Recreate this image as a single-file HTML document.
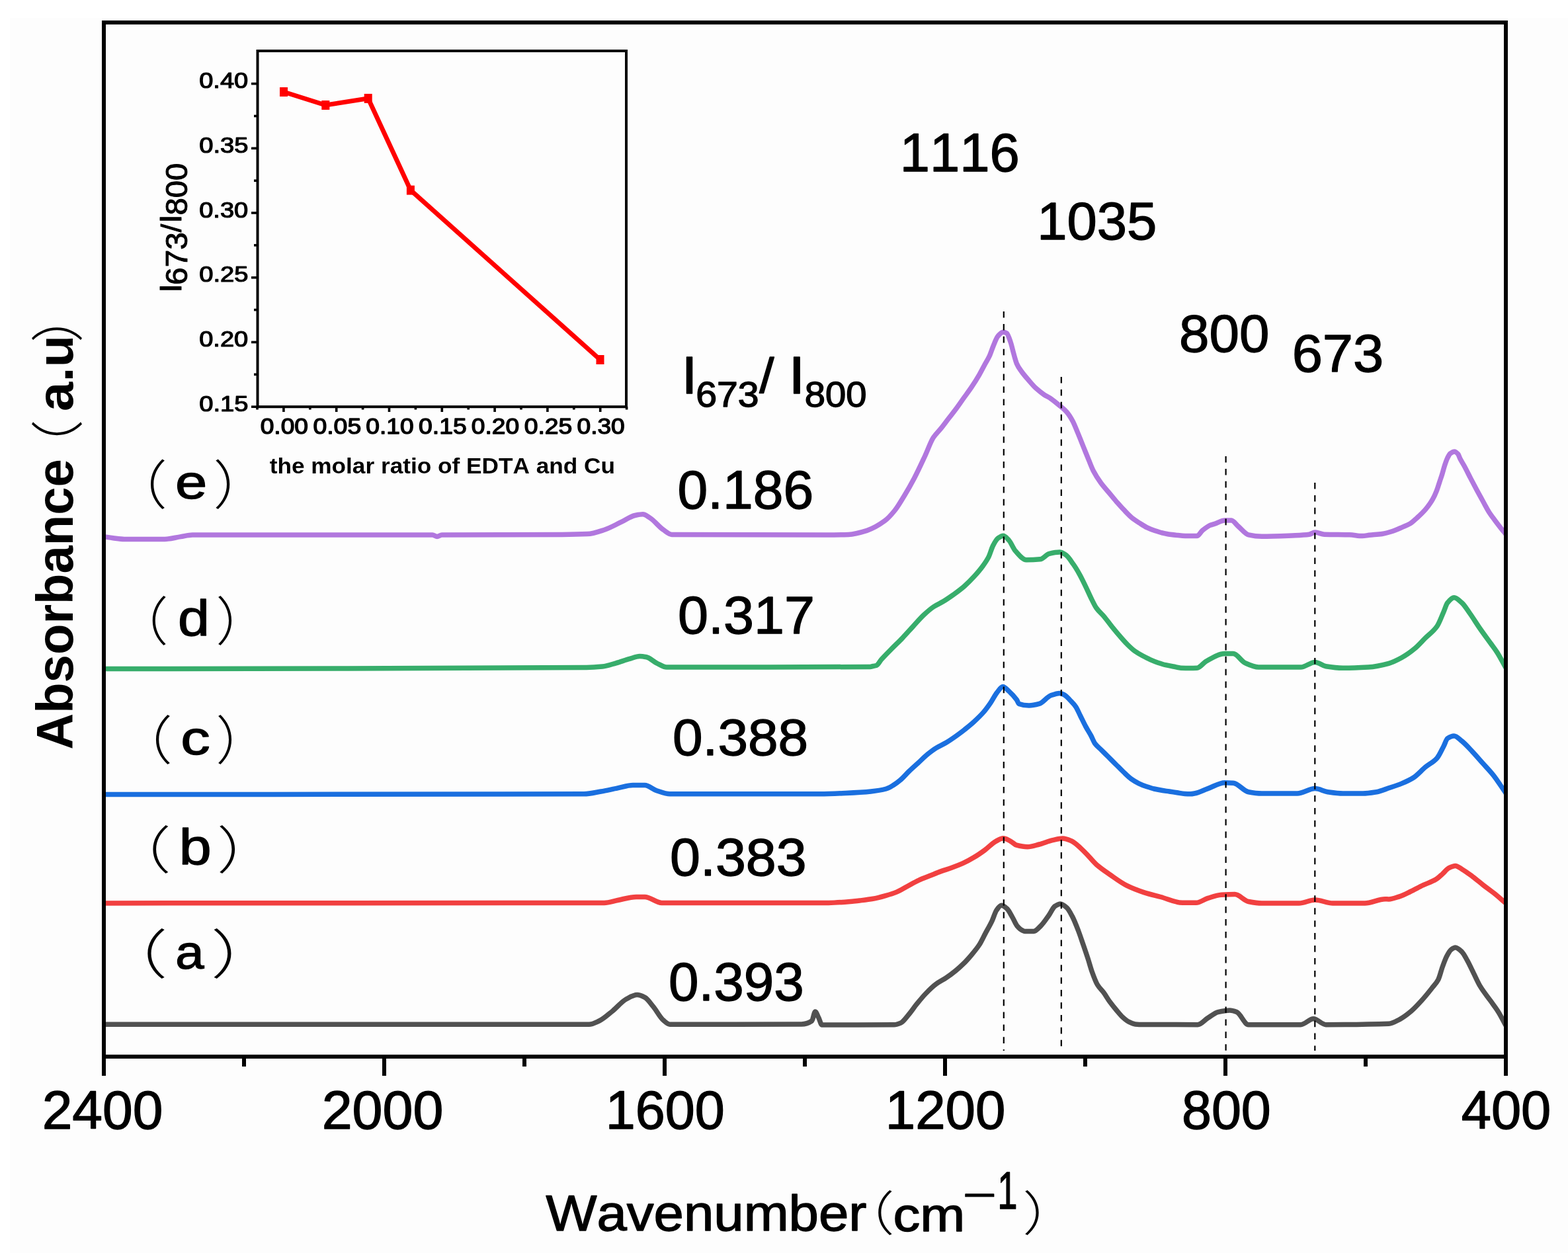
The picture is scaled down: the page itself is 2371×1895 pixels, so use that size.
<!DOCTYPE html>
<html><head><meta charset="utf-8"><title>FTIR spectra</title>
<style>html,body{margin:0;padding:0;background:#fff;overflow:hidden}svg{display:block}text{font-kerning:none}</style>
</head><body>
<svg xmlns="http://www.w3.org/2000/svg" width="2371" height="1895" viewBox="0 0 2371 1895">
<rect x="0" y="0" width="2371" height="1895" fill="#ffffff"/>
<rect x="15" y="27" width="2356" height="1868" fill="#fdfdfd"/>
<defs><clipPath id="pc"><rect x="157" y="34" width="2120" height="1564"/></clipPath></defs>
<g clip-path="url(#pc)" fill="none" stroke-width="7.5" stroke-linejoin="round">
<path d="M157.0 1549.2C401.6 1549.2 646.2 1549.2 890.8 1549.2C895.9 1549.2 900.9 1546.3 906.0 1544.0C912.8 1540.9 919.7 1534.3 926.5 1528.8C933.3 1523.3 940.2 1514.6 947.0 1511.0C952.5 1508.1 958.0 1504.6 963.5 1504.6C967.3 1504.6 971.2 1506.5 975.0 1508.4C979.3 1510.5 983.5 1517.3 987.8 1522.4C992.9 1528.5 997.9 1538.7 1003.0 1542.9C1006.3 1545.7 1009.7 1549.2 1013.0 1549.2C1079.3 1549.2 1145.7 1549.2 1212.0 1549.0C1217.2 1549.0 1222.4 1547.4 1227.6 1544.0C1229.3 1542.9 1231.0 1530.0 1232.7 1530.0C1234.4 1530.0 1236.1 1535.7 1237.8 1539.0C1239.5 1542.3 1241.2 1550.0 1242.9 1550.0C1279.3 1550.0 1315.6 1550.0 1352.0 1549.8C1355.3 1549.8 1358.6 1548.5 1361.9 1547.1C1365.9 1545.4 1369.8 1539.3 1373.8 1534.7C1377.8 1530.1 1381.7 1524.1 1385.7 1519.2C1390.5 1513.3 1395.2 1507.4 1400.0 1502.5C1405.1 1497.2 1410.3 1492.1 1415.4 1488.3C1420.6 1484.5 1425.7 1482.2 1430.9 1478.7C1435.7 1475.5 1440.4 1471.9 1445.2 1468.0C1449.2 1464.8 1453.1 1461.2 1457.1 1457.3C1461.1 1453.4 1465.0 1448.9 1469.0 1444.2C1473.0 1439.5 1476.9 1434.9 1480.9 1428.8C1484.1 1423.9 1487.2 1416.8 1490.4 1410.9C1493.6 1405.0 1496.7 1399.7 1499.9 1393.1C1502.3 1388.1 1504.6 1379.7 1507.0 1376.4C1509.4 1373.1 1511.8 1369.3 1514.2 1369.3C1517.0 1369.3 1519.7 1371.7 1522.5 1374.0C1525.3 1376.3 1528.0 1382.4 1530.8 1387.1C1533.2 1391.1 1535.5 1397.4 1537.9 1400.2C1540.7 1403.5 1543.5 1406.1 1546.3 1407.3C1547.5 1407.8 1548.8 1408.5 1550.0 1408.5C1554.4 1408.5 1558.7 1408.5 1563.1 1408.5C1566.7 1408.5 1570.2 1403.7 1573.8 1400.2C1577.8 1396.4 1581.7 1390.2 1585.7 1384.7C1588.9 1380.3 1592.0 1372.6 1595.2 1370.5C1598.0 1368.7 1600.7 1366.9 1603.5 1366.9C1606.7 1366.9 1609.9 1369.9 1613.1 1372.8C1615.9 1375.3 1618.6 1380.7 1621.4 1385.9C1624.6 1391.9 1627.7 1400.2 1630.9 1408.5C1633.3 1414.7 1635.6 1421.9 1638.0 1428.8C1640.4 1435.8 1642.8 1442.8 1645.2 1450.2C1647.2 1456.3 1649.1 1463.7 1651.1 1469.2C1653.9 1477.0 1656.7 1484.8 1659.5 1489.4C1662.7 1494.7 1665.8 1497.0 1669.0 1501.3C1672.2 1505.6 1675.3 1511.3 1678.5 1515.6C1681.7 1519.9 1684.8 1523.7 1688.0 1527.5C1691.2 1531.3 1694.3 1535.3 1697.5 1538.2C1700.7 1541.1 1703.8 1543.8 1707.0 1545.4C1710.2 1547.0 1713.4 1548.6 1716.6 1548.9C1720.6 1549.3 1724.5 1549.5 1728.5 1549.5C1756.0 1549.7 1783.5 1549.7 1811.0 1549.7C1816.2 1549.7 1821.3 1542.7 1826.5 1539.5C1831.6 1536.4 1836.7 1531.8 1841.8 1530.6C1847.8 1529.2 1853.7 1528.0 1859.7 1528.0C1863.1 1528.0 1866.6 1529.3 1870.0 1530.6C1875.9 1532.9 1881.9 1549.7 1887.8 1549.7C1914.1 1549.7 1940.5 1549.7 1966.8 1549.7C1973.2 1549.7 1979.6 1540.8 1986.0 1540.8C1992.3 1540.8 1998.7 1549.7 2005.0 1549.7C2036.7 1549.7 2068.3 1549.5 2100.0 1548.3C2105.4 1548.1 2110.8 1544.6 2116.2 1541.8C2121.6 1539.0 2127.1 1534.9 2132.5 1530.4C2137.9 1526.0 2143.3 1520.1 2148.7 1514.2C2154.1 1508.3 2159.6 1501.6 2165.0 1494.7C2168.2 1490.6 2171.5 1487.8 2174.7 1481.7C2176.9 1477.6 2179.0 1468.1 2181.2 1462.2C2183.4 1456.3 2185.5 1450.1 2187.7 1446.0C2189.9 1441.9 2192.0 1437.8 2194.2 1436.2C2196.4 1434.6 2198.5 1433.0 2200.7 1433.0C2204.0 1433.0 2207.2 1436.4 2210.5 1439.5C2213.2 1442.1 2215.9 1447.6 2218.6 1452.4C2221.8 1458.1 2225.1 1465.4 2228.3 1471.9C2231.6 1478.4 2234.8 1485.9 2238.1 1491.4C2243.5 1500.4 2248.9 1506.6 2254.3 1514.2C2258.1 1519.6 2261.9 1524.3 2265.7 1530.4C2269.5 1536.4 2273.2 1544.1 2277.0 1551.0" stroke="#515151"/>
<path d="M157.0 1365.9C409.3 1365.7 661.5 1365.9 913.8 1365.4C920.5 1365.4 927.3 1362.8 934.0 1361.5C943.4 1359.7 952.8 1356.4 962.2 1356.4C966.5 1356.4 970.7 1356.4 975.0 1356.4C983.5 1356.4 992.0 1365.4 1000.5 1365.4C1084.7 1365.4 1168.8 1365.4 1253.0 1365.4C1265.6 1365.4 1278.2 1364.1 1290.8 1363.0C1293.9 1362.7 1296.9 1362.4 1300.0 1362.0C1306.7 1361.2 1313.3 1360.5 1320.0 1359.3C1326.3 1358.2 1332.7 1356.4 1339.0 1354.6C1344.6 1353.0 1350.1 1351.4 1355.7 1349.1C1361.3 1346.8 1366.8 1343.2 1372.4 1340.2C1378.0 1337.2 1383.5 1333.8 1389.1 1331.3C1394.7 1328.8 1400.2 1326.8 1405.8 1324.6C1411.4 1322.4 1416.9 1319.9 1422.5 1317.9C1428.1 1315.9 1433.6 1314.3 1439.2 1312.3C1444.8 1310.3 1450.3 1308.2 1455.9 1305.7C1461.4 1303.2 1467.0 1300.1 1472.5 1296.8C1478.1 1293.5 1483.6 1289.7 1489.2 1285.6C1494.8 1281.5 1500.3 1275.2 1505.9 1272.3C1509.6 1270.3 1513.4 1267.8 1517.1 1267.8C1520.8 1267.8 1524.5 1270.4 1528.2 1272.3C1531.2 1273.8 1534.1 1277.4 1537.1 1278.2C1542.6 1279.7 1548.1 1280.8 1553.6 1280.8C1559.5 1280.8 1565.5 1278.5 1571.4 1277.0C1578.2 1275.3 1585.0 1272.1 1591.8 1270.6C1596.9 1269.5 1601.9 1268.0 1607.0 1268.0C1611.3 1268.0 1615.7 1270.0 1620.0 1271.8C1626.7 1274.6 1633.3 1282.2 1640.0 1288.4C1646.0 1294.0 1652.0 1302.3 1658.0 1307.6C1664.9 1313.6 1671.7 1318.1 1678.6 1322.9C1687.1 1328.8 1695.5 1335.2 1704.0 1339.4C1712.5 1343.6 1721.1 1346.8 1729.6 1349.6C1738.1 1352.3 1746.5 1354.2 1755.0 1356.5C1766.0 1359.5 1777.0 1365.3 1788.0 1365.3C1794.9 1365.3 1801.8 1365.3 1808.7 1365.3C1814.6 1365.3 1820.6 1360.2 1826.5 1358.4C1833.3 1356.3 1840.2 1353.7 1847.0 1353.3C1853.8 1352.9 1860.5 1352.6 1867.3 1352.6C1874.1 1352.6 1881.0 1362.1 1887.8 1363.5C1894.5 1364.8 1901.3 1366.0 1908.0 1366.0C1926.8 1366.0 1945.5 1366.0 1964.3 1366.0C1972.4 1366.0 1980.4 1361.0 1988.5 1361.0C1997.4 1361.0 2006.4 1366.0 2015.3 1366.0C2031.5 1366.0 2047.6 1366.0 2063.8 1366.0C2074.0 1366.0 2084.2 1359.7 2094.4 1359.7C2096.3 1359.7 2098.1 1359.9 2100.0 1359.9C2105.4 1359.9 2110.8 1357.5 2116.2 1355.8C2121.6 1354.0 2127.1 1351.1 2132.5 1348.5C2139.0 1345.4 2145.5 1341.8 2152.0 1338.7C2158.5 1335.6 2165.0 1333.8 2171.5 1329.8C2174.7 1327.8 2178.0 1324.5 2181.2 1321.7C2184.5 1318.8 2187.7 1314.3 2191.0 1312.7C2194.2 1311.1 2197.5 1309.5 2200.7 1309.5C2204.0 1309.5 2207.2 1312.5 2210.5 1314.4C2215.9 1317.5 2221.3 1321.7 2226.7 1325.7C2232.1 1329.7 2237.6 1334.5 2243.0 1338.7C2248.4 1342.9 2253.8 1346.6 2259.2 1350.9C2265.1 1355.6 2271.1 1361.0 2277.0 1366.0" stroke="#F14040"/>
<path d="M157.0 1201.6C399.0 1201.3 641.0 1201.6 883.0 1200.8C891.6 1200.8 900.1 1198.5 908.7 1197.0C917.1 1195.6 925.6 1193.5 934.0 1191.9C941.7 1190.4 949.3 1187.6 957.0 1187.6C963.0 1187.6 969.0 1187.6 975.0 1187.6C981.0 1187.6 986.9 1193.7 992.9 1195.7C999.6 1197.9 1006.3 1200.8 1013.0 1200.8C1088.7 1200.8 1164.3 1200.8 1240.0 1200.8C1252.9 1200.8 1265.7 1200.1 1278.6 1199.5C1291.3 1198.9 1304.1 1198.3 1316.8 1197.0C1324.5 1196.2 1332.3 1195.1 1340.0 1193.0C1343.9 1191.9 1347.7 1189.4 1351.6 1187.1C1354.7 1185.2 1357.8 1182.8 1360.9 1180.2C1365.5 1176.3 1370.2 1170.7 1374.8 1166.3C1379.5 1161.8 1384.1 1157.8 1388.8 1153.5C1393.4 1149.2 1398.1 1144.5 1402.7 1140.7C1406.9 1137.3 1411.2 1134.0 1415.4 1131.4C1420.4 1128.3 1425.5 1126.3 1430.5 1123.3C1435.2 1120.5 1439.8 1117.3 1444.5 1114.0C1449.1 1110.7 1453.8 1107.3 1458.4 1103.6C1463.0 1099.9 1467.7 1096.2 1472.3 1092.0C1477.3 1087.4 1482.4 1082.7 1487.4 1076.9C1490.9 1072.9 1494.4 1068.0 1497.9 1062.9C1501.0 1058.4 1504.1 1051.8 1507.2 1047.9C1510.3 1044.1 1513.3 1038.6 1516.4 1038.6C1519.5 1038.6 1522.6 1042.8 1525.7 1045.5C1529.6 1048.9 1533.4 1052.9 1537.3 1058.3C1538.5 1059.9 1539.6 1064.0 1540.8 1064.4C1545.9 1066.3 1550.9 1067.0 1556.0 1067.0C1561.1 1067.0 1566.3 1065.8 1571.4 1064.4C1577.3 1062.8 1583.1 1053.8 1589.0 1051.7C1593.4 1050.1 1597.9 1048.4 1602.3 1048.4C1604.6 1048.4 1607.0 1049.7 1609.3 1050.8C1612.4 1052.3 1615.5 1056.3 1618.6 1059.5C1621.3 1062.3 1624.0 1064.8 1626.7 1068.8C1629.0 1072.2 1631.4 1078.1 1633.7 1082.7C1636.4 1088.1 1639.1 1093.9 1641.8 1098.9C1644.5 1103.9 1647.2 1107.9 1649.9 1112.9C1651.8 1116.5 1653.8 1121.9 1655.7 1124.5C1658.8 1128.7 1661.9 1130.7 1665.0 1133.8C1668.5 1137.3 1671.9 1140.7 1675.4 1144.2C1679.3 1148.1 1683.2 1151.9 1687.1 1155.8C1691.0 1159.7 1694.8 1163.7 1698.7 1167.4C1702.6 1171.1 1706.4 1175.1 1710.3 1177.9C1714.2 1180.7 1718.0 1182.9 1721.9 1184.8C1725.8 1186.7 1729.6 1188.2 1733.5 1189.5C1737.4 1190.8 1741.2 1192.1 1745.1 1193.0C1749.0 1193.9 1752.8 1194.6 1756.7 1195.3C1760.6 1196.0 1764.4 1196.4 1768.3 1197.0C1772.2 1197.6 1776.0 1198.2 1779.9 1198.8C1783.8 1199.4 1787.6 1200.3 1791.5 1200.5C1794.3 1200.7 1797.2 1200.8 1800.0 1200.8C1802.0 1200.8 1804.0 1200.4 1806.0 1200.0C1812.8 1198.8 1819.7 1195.0 1826.5 1192.6C1835.0 1189.6 1843.5 1183.7 1852.0 1183.7C1856.3 1183.7 1860.5 1183.9 1864.8 1184.2C1872.5 1184.7 1880.1 1196.3 1887.8 1197.7C1894.5 1199.0 1901.3 1200.0 1908.0 1200.0C1925.9 1200.0 1943.8 1200.0 1961.7 1200.0C1970.6 1200.0 1979.6 1192.6 1988.5 1192.6C1994.9 1192.6 2001.2 1196.8 2007.6 1197.7C2015.3 1198.8 2022.9 1200.0 2030.6 1200.0C2040.7 1200.0 2050.9 1200.0 2061.0 1200.0C2067.9 1200.0 2074.7 1198.8 2081.6 1197.7C2087.7 1196.7 2093.9 1193.9 2100.0 1191.8C2106.6 1189.6 2113.1 1187.6 2119.7 1184.9C2125.6 1182.4 2131.6 1179.8 2137.5 1176.0C2143.4 1172.2 2149.4 1165.1 2155.3 1160.2C2161.2 1155.3 2167.1 1153.1 2173.0 1146.4C2176.3 1142.7 2179.6 1135.0 2182.9 1128.7C2184.9 1125.0 2186.8 1118.2 2188.8 1116.8C2192.1 1114.5 2195.4 1112.9 2198.7 1112.9C2202.6 1112.9 2206.6 1117.7 2210.5 1120.8C2215.8 1125.0 2221.0 1131.0 2226.3 1136.6C2231.6 1142.2 2236.8 1148.4 2242.1 1154.3C2247.4 1160.2 2252.6 1165.5 2257.9 1172.1C2264.3 1180.1 2270.6 1190.4 2277.0 1199.5" stroke="#1A6FDF"/>
<path d="M157.0 1011.6C400.3 1010.9 643.7 1011.4 887.0 1009.5C895.0 1009.4 903.0 1008.8 911.0 1008.0C917.9 1007.3 924.7 1004.7 931.6 1002.8C938.4 1000.9 945.2 998.3 952.0 996.4C957.1 995.0 962.2 992.6 967.3 992.6C970.7 992.6 974.2 993.2 977.6 993.8C982.7 994.8 987.8 1000.3 992.9 1002.8C997.9 1005.2 1003.0 1009.0 1008.0 1009.0C1110.7 1009.0 1213.3 1009.0 1316.0 1008.5C1317.3 1008.5 1318.7 1007.8 1320.0 1007.5C1321.7 1007.1 1323.4 1007.0 1325.1 1006.5C1327.7 1005.7 1330.2 1000.2 1332.8 997.3C1337.9 991.6 1343.0 986.6 1348.1 981.4C1353.6 975.8 1359.2 970.6 1364.7 964.8C1369.8 959.5 1374.9 953.6 1380.0 948.1C1385.5 942.1 1391.1 935.5 1396.6 930.3C1401.7 925.5 1406.9 920.9 1412.0 917.5C1416.7 914.4 1421.3 912.6 1426.0 909.8C1431.1 906.7 1436.2 903.2 1441.3 899.6C1446.8 895.6 1452.4 891.6 1457.9 886.8C1463.0 882.3 1468.2 877.1 1473.3 871.5C1477.5 866.9 1481.8 862.0 1486.0 856.2C1489.0 852.1 1492.0 848.0 1495.0 842.1C1497.1 837.9 1499.3 829.6 1501.4 825.5C1503.9 820.6 1506.5 815.8 1509.0 814.0C1511.7 812.1 1514.3 810.2 1517.0 810.2C1519.8 810.2 1522.7 814.0 1525.5 817.0C1528.9 820.6 1532.3 829.8 1535.7 833.6C1541.1 839.6 1546.6 846.8 1552.0 846.8C1558.9 846.8 1565.8 846.5 1572.7 845.8C1577.4 845.4 1582.0 838.5 1586.7 837.4C1591.9 836.2 1597.1 835.1 1602.3 835.1C1605.4 835.1 1608.5 837.2 1611.6 839.2C1615.5 841.7 1619.3 848.2 1623.2 853.7C1626.3 858.1 1629.4 863.3 1632.5 868.8C1635.6 874.3 1638.7 880.9 1641.8 887.3C1644.9 893.7 1648.0 901.0 1651.1 907.1C1653.4 911.6 1655.7 916.6 1658.0 919.8C1661.9 925.3 1665.7 928.0 1669.6 932.6C1673.5 937.2 1677.4 942.9 1681.3 947.7C1685.2 952.5 1689.0 957.2 1692.9 961.6C1696.8 966.0 1700.6 970.6 1704.5 974.4C1708.4 978.2 1712.2 982.0 1716.1 984.8C1720.0 987.6 1723.8 989.7 1727.7 991.8C1731.6 993.9 1735.4 995.9 1739.3 997.6C1743.2 999.3 1747.0 1000.9 1750.9 1002.2C1754.8 1003.5 1758.6 1004.8 1762.5 1005.7C1766.4 1006.6 1770.2 1007.3 1774.1 1008.0C1778.0 1008.7 1781.8 1010.0 1785.7 1010.2C1790.5 1010.4 1795.2 1010.5 1800.0 1010.5C1803.3 1010.5 1806.7 1010.4 1810.0 1010.3C1814.7 1010.1 1819.3 1002.5 1824.0 1000.0C1833.3 994.9 1842.7 988.6 1852.0 988.6C1856.3 988.6 1860.5 988.6 1864.8 988.6C1870.8 988.6 1876.7 999.9 1882.7 1002.6C1889.5 1005.7 1896.2 1009.0 1903.0 1009.0C1924.3 1009.0 1945.5 1009.0 1966.8 1009.0C1974.0 1009.0 1981.3 1001.4 1988.5 1001.4C1994.0 1001.4 1999.5 1006.9 2005.0 1007.8C2013.5 1009.2 2022.1 1010.3 2030.6 1010.3C2043.4 1010.3 2056.1 1009.7 2068.9 1009.0C2079.3 1008.4 2089.6 1006.1 2100.0 1003.3C2106.6 1001.5 2113.1 998.1 2119.7 994.5C2126.3 990.9 2132.9 986.2 2139.5 980.7C2144.8 976.3 2150.0 970.2 2155.3 964.9C2161.2 959.0 2167.1 955.5 2173.0 947.1C2176.3 942.4 2179.6 932.9 2182.9 925.4C2184.9 920.9 2186.8 914.0 2188.8 911.6C2192.1 907.5 2195.4 903.7 2198.7 903.7C2202.6 903.7 2206.6 908.1 2210.5 911.6C2214.5 915.1 2218.4 921.8 2222.4 927.4C2227.7 934.8 2232.9 943.4 2238.2 951.0C2243.4 958.5 2248.7 965.5 2253.9 972.8C2257.2 977.4 2260.5 981.5 2263.8 986.6C2268.2 993.4 2272.6 1002.2 2277.0 1010.0" stroke="#37AD6B"/>
<path d="M157.0 811.6C161.7 812.3 166.3 813.1 171.0 813.7C176.7 814.4 182.3 815.4 188.0 815.4C208.3 815.4 228.7 815.4 249.0 815.4C257.2 815.4 265.3 812.8 273.5 811.6C279.3 810.7 285.2 809.0 291.0 809.0C412.0 809.0 533.0 809.0 654.0 809.0C656.3 809.0 658.7 811.6 661.0 811.6C663.3 811.6 665.7 809.0 668.0 809.0C728.7 808.5 789.3 808.9 850.0 808.5C862.7 808.4 875.3 808.2 888.0 807.6C896.7 807.2 905.3 804.0 914.0 801.2C922.3 798.5 930.7 793.6 939.0 789.7C946.0 786.4 953.0 781.0 960.0 779.5C964.0 778.7 968.0 777.8 972.0 777.8C975.7 777.8 979.3 781.1 983.0 783.4C989.7 787.6 996.3 796.7 1003.0 801.2C1007.3 804.1 1011.7 808.4 1016.0 808.4C1094.0 809.0 1172.0 809.0 1250.0 809.0C1261.0 809.0 1272.0 808.8 1283.0 808.4C1292.3 808.1 1301.7 805.2 1311.0 802.3C1320.0 799.5 1329.0 794.2 1338.0 787.6C1343.0 783.9 1348.0 778.2 1353.0 772.0C1357.7 766.2 1362.3 758.2 1367.0 750.5C1372.2 742.0 1377.4 732.9 1382.6 723.0C1387.9 712.9 1393.2 701.3 1398.5 690.0C1402.8 680.9 1407.0 668.4 1411.3 661.8C1415.2 655.8 1419.0 652.7 1422.9 647.9C1426.8 643.1 1430.6 637.8 1434.5 632.8C1438.4 627.8 1442.2 622.9 1446.1 617.7C1450.0 612.5 1453.8 606.8 1457.7 601.4C1461.6 596.0 1465.4 591.0 1469.3 585.2C1473.2 579.4 1477.0 573.3 1480.9 566.6C1483.6 561.9 1486.3 556.5 1489.0 551.5C1491.3 547.2 1493.7 543.8 1496.0 538.8C1497.9 534.6 1499.9 528.3 1501.8 523.7C1504.1 518.2 1506.5 511.3 1508.8 508.6C1511.5 505.5 1514.2 502.3 1516.9 502.3C1518.7 502.3 1520.5 503.0 1522.3 504.0C1524.2 505.1 1526.2 511.9 1528.1 517.4C1529.7 521.9 1531.2 529.3 1532.8 534.8C1534.3 540.1 1535.9 546.4 1537.4 549.9C1539.7 555.2 1542.1 558.2 1544.4 561.5C1547.9 566.4 1551.3 570.3 1554.8 574.3C1558.7 578.8 1562.5 583.5 1566.4 587.1C1570.3 590.7 1574.1 593.6 1578.0 596.3C1581.9 599.0 1585.7 600.6 1589.6 603.3C1593.5 606.0 1597.4 609.3 1601.3 612.6C1605.2 615.9 1609.0 618.6 1612.9 623.0C1616.0 626.5 1619.0 631.3 1622.1 637.0C1624.4 641.3 1626.8 647.6 1629.1 653.2C1632.5 661.3 1635.9 669.9 1639.3 678.3C1641.6 684.1 1644.0 690.0 1646.3 695.7C1648.6 701.3 1650.9 707.5 1653.2 712.0C1657.1 719.5 1660.9 725.2 1664.8 730.5C1668.7 735.8 1672.5 739.9 1676.4 744.5C1680.3 749.1 1684.1 754.0 1688.0 758.4C1691.9 762.8 1695.7 767.2 1699.6 771.2C1703.5 775.3 1707.4 779.6 1711.3 782.8C1715.2 786.0 1719.0 788.4 1722.9 790.9C1726.8 793.4 1730.6 796.0 1734.5 797.9C1738.4 799.8 1742.2 801.2 1746.1 802.5C1750.0 803.8 1753.8 805.1 1757.7 806.0C1761.6 806.9 1765.4 807.8 1769.3 808.3C1773.2 808.8 1777.0 809.2 1780.9 809.5C1786.7 810.0 1792.5 810.6 1798.3 810.6C1802.2 810.6 1806.0 810.6 1809.9 810.6C1812.6 810.6 1815.3 804.7 1818.0 802.5C1821.9 799.3 1825.8 796.0 1829.7 794.4C1832.0 793.4 1834.4 793.0 1836.7 792.2C1841.8 790.5 1846.9 787.0 1852.0 787.0C1855.3 787.0 1858.7 787.0 1862.0 787.0C1865.5 787.0 1868.9 793.1 1872.4 796.0C1877.5 800.4 1882.7 807.7 1887.8 808.8C1894.5 810.3 1901.3 811.3 1908.0 811.3C1923.3 811.3 1938.7 810.6 1954.0 810.0C1962.5 809.6 1971.1 809.4 1979.6 808.3C1982.6 807.9 1985.5 805.0 1988.5 805.0C1993.2 805.0 1997.9 808.2 2002.6 808.3C2015.3 808.7 2028.1 808.5 2040.8 808.8C2047.2 809.0 2053.6 810.6 2060.0 810.6C2063.5 810.6 2066.9 809.7 2070.4 809.3C2076.8 808.6 2083.2 808.4 2089.6 807.5C2095.1 806.7 2100.6 805.0 2106.1 803.2C2111.0 801.6 2116.0 799.2 2120.9 797.1C2124.7 795.5 2128.5 794.2 2132.3 791.9C2135.8 789.8 2139.2 786.3 2142.7 783.2C2147.1 779.2 2151.4 775.3 2155.8 770.1C2159.3 766.0 2162.7 761.3 2166.2 755.3C2168.2 751.8 2170.3 747.4 2172.3 742.3C2173.8 738.6 2175.2 733.6 2176.7 729.2C2178.1 724.9 2179.6 720.8 2181.0 716.1C2182.2 712.3 2183.3 707.5 2184.5 704.0C2185.9 699.7 2187.4 695.4 2188.8 692.6C2190.3 689.7 2191.7 686.7 2193.2 685.7C2195.2 684.3 2197.3 683.0 2199.3 683.0C2201.0 683.0 2202.8 684.7 2204.5 686.5C2205.7 687.7 2206.8 691.7 2208.0 694.0C2210.1 698.1 2212.2 701.1 2214.3 705.0C2217.4 710.7 2220.5 717.1 2223.6 723.1C2226.7 729.1 2229.8 735.0 2232.9 740.8C2236.0 746.5 2239.0 752.0 2242.1 757.5C2245.2 763.1 2248.3 769.3 2251.4 774.2C2254.5 779.1 2257.6 783.0 2260.7 787.2C2263.8 791.4 2266.9 795.4 2270.0 799.3C2272.3 802.3 2274.7 805.1 2277.0 808.0" stroke="#B177DE"/>
</g>
<g stroke="#000" stroke-width="2.2" stroke-dasharray="9.6 9.32">
<line x1="1517.8" y1="471" x2="1517.8" y2="1589"/>
<line x1="1604.8" y1="570" x2="1604.8" y2="1589"/>
<line x1="1853.6" y1="690" x2="1853.6" y2="1589"/>
<line x1="1988.3" y1="730" x2="1988.3" y2="1589"/>
</g>
<rect x="157" y="34" width="2120" height="1564" fill="none" stroke="#000" stroke-width="6"/>
<g stroke="#000" stroke-width="6"><line x1="157.0" y1="1598" x2="157.0" y2="1627"/><line x1="369.0" y1="1598" x2="369.0" y2="1613"/><line x1="581.0" y1="1598" x2="581.0" y2="1627"/><line x1="793.0" y1="1598" x2="793.0" y2="1613"/><line x1="1005.0" y1="1598" x2="1005.0" y2="1627"/><line x1="1217.0" y1="1598" x2="1217.0" y2="1613"/><line x1="1429.0" y1="1598" x2="1429.0" y2="1627"/><line x1="1641.0" y1="1598" x2="1641.0" y2="1613"/><line x1="1853.0" y1="1598" x2="1853.0" y2="1627"/><line x1="2065.0" y1="1598" x2="2065.0" y2="1613"/><line x1="2277.0" y1="1598" x2="2277.0" y2="1627"/></g>
<rect x="389.5" y="77" width="557.5" height="538.2" fill="none" stroke="#000" stroke-width="4"/>
<g stroke="#000" stroke-width="3.6"><line x1="380" y1="615.2" x2="390" y2="615.2"/><line x1="384" y1="566.3" x2="390" y2="566.3"/><line x1="380" y1="517.5" x2="390" y2="517.5"/><line x1="384" y1="468.6" x2="390" y2="468.6"/><line x1="380" y1="419.8" x2="390" y2="419.8"/><line x1="384" y1="370.9" x2="390" y2="370.9"/><line x1="380" y1="322.0" x2="390" y2="322.0"/><line x1="384" y1="273.2" x2="390" y2="273.2"/><line x1="380" y1="224.3" x2="390" y2="224.3"/><line x1="384" y1="175.5" x2="390" y2="175.5"/><line x1="380" y1="126.6" x2="390" y2="126.6"/><line x1="428.9" y1="615" x2="428.9" y2="623"/><line x1="508.7" y1="615" x2="508.7" y2="623"/><line x1="588.5" y1="615" x2="588.5" y2="623"/><line x1="668.3" y1="615" x2="668.3" y2="623"/><line x1="748.1" y1="615" x2="748.1" y2="623"/><line x1="827.9" y1="615" x2="827.9" y2="623"/><line x1="907.7" y1="615" x2="907.7" y2="623"/><line x1="389.0" y1="615" x2="389.0" y2="619.5"/><line x1="468.8" y1="615" x2="468.8" y2="619.5"/><line x1="548.6" y1="615" x2="548.6" y2="619.5"/><line x1="628.4" y1="615" x2="628.4" y2="619.5"/><line x1="708.2" y1="615" x2="708.2" y2="619.5"/><line x1="788.0" y1="615" x2="788.0" y2="619.5"/><line x1="867.8" y1="615" x2="867.8" y2="619.5"/><line x1="947.6" y1="615" x2="947.6" y2="619.5"/></g>
<polyline points="429.0,139.0 492.3,159.0 556.7,148.9 620.9,287.6 907.5,544.0" fill="none" stroke="#FF0000" stroke-width="7" stroke-linejoin="miter"/>
<rect x="423.0" y="132.0" width="12" height="14" fill="#FF0000"/>
<rect x="486.3" y="152.0" width="12" height="14" fill="#FF0000"/>
<rect x="550.7" y="141.9" width="12" height="14" fill="#FF0000"/>
<rect x="614.9" y="280.6" width="12" height="14" fill="#FF0000"/>
<rect x="901.5" y="537.0" width="12" height="14" fill="#FF0000"/>
<g fill="#000" stroke-linejoin="round" style="font-kerning:none">
<text transform="matrix(0.8137 0.0000 0.0000 0.8082 1360.8042 259.3836)" font-family="Liberation Sans, Arial, sans-serif" font-size="100" stroke="#000" stroke-width="1.7">1116</text>
<text transform="matrix(0.8137 0.0000 0.0000 0.7945 1568.3042 361.9110)" font-family="Liberation Sans, Arial, sans-serif" font-size="100" stroke="#000" stroke-width="1.7">1035</text>
<text transform="matrix(0.8168 0.0000 0.0000 0.7945 1783.0497 531.9110)" font-family="Liberation Sans, Arial, sans-serif" font-size="100" stroke="#000" stroke-width="1.7">800</text>
<text transform="matrix(0.8302 0.0000 0.0000 0.7945 1953.6792 561.9110)" font-family="Liberation Sans, Arial, sans-serif" font-size="100" stroke="#000" stroke-width="1.7">673</text>
<text transform="matrix(0.8217 0.0000 0.0000 0.8151 1024.5348 768.8699)" font-family="Liberation Sans, Arial, sans-serif" font-size="100" stroke="#000" stroke-width="1.7">0.186</text>
<text transform="matrix(0.8272 0.0000 0.0000 0.8014 1025.0185 957.8973)" font-family="Liberation Sans, Arial, sans-serif" font-size="100" stroke="#000" stroke-width="1.7">0.317</text>
<text transform="matrix(0.8197 0.0000 0.0000 0.7877 1017.0410 1141.9247)" font-family="Liberation Sans, Arial, sans-serif" font-size="100" stroke="#000" stroke-width="1.7">0.388</text>
<text transform="matrix(0.8258 0.0000 0.0000 0.8014 1013.0225 1324.3973)" font-family="Liberation Sans, Arial, sans-serif" font-size="100" stroke="#000" stroke-width="1.7">0.383</text>
<text transform="matrix(0.8176 0.0000 0.0000 0.8151 1011.0471 1512.8699)" font-family="Liberation Sans, Arial, sans-serif" font-size="100" stroke="#000" stroke-width="1.7">0.393</text>
<text transform="matrix(0.8209 0.0000 0.0000 0.8082 63.7163 1706.8836)" font-family="Liberation Sans, Arial, sans-serif" font-size="100" stroke="#000" stroke-width="1.7">2400</text>
<text transform="matrix(0.8256 0.0000 0.0000 0.8082 486.6977 1706.8836)" font-family="Liberation Sans, Arial, sans-serif" font-size="100" stroke="#000" stroke-width="1.7">2000</text>
<text transform="matrix(0.8090 0.0000 0.0000 0.8082 915.8373 1706.8836)" font-family="Liberation Sans, Arial, sans-serif" font-size="100" stroke="#000" stroke-width="1.7">1600</text>
<text transform="matrix(0.8160 0.0000 0.0000 0.8082 1338.7877 1706.8836)" font-family="Liberation Sans, Arial, sans-serif" font-size="100" stroke="#000" stroke-width="1.7">1200</text>
<text transform="matrix(0.8075 0.0000 0.0000 0.8082 1787.0776 1706.8836)" font-family="Liberation Sans, Arial, sans-serif" font-size="100" stroke="#000" stroke-width="1.7">800</text>
<text transform="matrix(0.8129 0.0000 0.0000 0.8082 2209.6871 1706.8836)" font-family="Liberation Sans, Arial, sans-serif" font-size="100" stroke="#000" stroke-width="1.7">400</text>
<text transform="matrix(0.8157 0.0000 0.0000 0.7566 825.5000 1860.9868)" font-family="Liberation Sans, Arial, sans-serif" font-size="100" stroke="#000" stroke-width="1.8">Wavenumber</text>
<text transform="matrix(0.8542 0.0000 0.0000 0.7181 1267.3542 1861.0372)" font-family="'Noto Sans CJK SC', 'Noto Sans CJK JP', sans-serif" font-size="100" font-weight="300">（</text>
<text transform="matrix(0.8160 0.0000 0.0000 0.7281 1350.5520 1861.5439)" font-family="Liberation Sans, Arial, sans-serif" font-size="100" stroke="#000" stroke-width="1.9">cm</text>
<text transform="matrix(0.8725 0.0000 0.0000 0.5556 1455.5098 1825.6111)" font-family="Liberation Sans, Arial, sans-serif" font-size="100" stroke="#000" stroke-width="2.0">−</text>
<text transform="matrix(0.5444 0.0000 0.0000 0.8028 1508.1889 1828.1972)" font-family="Liberation Sans, Arial, sans-serif" font-size="100" stroke="#000" stroke-width="1.7">1</text>
<text transform="matrix(0.8542 0.0000 0.0000 0.7181 1546.2292 1861.0372)" font-family="'Noto Sans CJK SC', 'Noto Sans CJK JP', sans-serif" font-size="100" font-weight="300">）</text>
<text transform="matrix(0.8636 0.0000 0.0000 0.8028 1030.5909 594.6972)" font-family="Liberation Sans, Arial, sans-serif" font-size="100" stroke="#000" stroke-width="1.7">I</text>
<text transform="matrix(0.5719 0.0000 0.0000 0.5274 1052.2125 615.4452)" font-family="Liberation Sans, Arial, sans-serif" font-size="100" stroke="#000" stroke-width="2.6">673</text>
<text transform="matrix(0.8000 0.0000 0.0000 0.7500 1148.3000 594.0000)" font-family="Liberation Sans, Arial, sans-serif" font-size="100" stroke="#000" stroke-width="1.8">/</text>
<text transform="matrix(0.9091 0.0000 0.0000 0.8028 1192.2273 594.6972)" font-family="Liberation Sans, Arial, sans-serif" font-size="100" stroke="#000" stroke-width="1.7">I</text>
<text transform="matrix(0.5621 0.0000 0.0000 0.5274 1216.8137 615.4452)" font-family="Liberation Sans, Arial, sans-serif" font-size="100" stroke="#000" stroke-width="2.6">800</text>
<text transform="matrix(0.8750 0.0000 0.0000 0.7979 165.3750 762.3191)" font-family="'Noto Sans CJK SC', 'Noto Sans CJK JP', sans-serif" font-size="100" font-weight="300">（</text>
<text transform="matrix(0.8673 0.0000 0.0000 0.7193 264.8980 754.0614)" font-family="Liberation Sans, Arial, sans-serif" font-size="100" stroke="#000" stroke-width="1.9">e</text>
<text transform="matrix(0.8750 0.0000 0.0000 0.7979 322.1250 762.3191)" font-family="'Noto Sans CJK SC', 'Noto Sans CJK JP', sans-serif" font-size="100" font-weight="300">）</text>
<text transform="matrix(0.8333 0.0000 0.0000 0.7926 171.3333 967.8670)" font-family="'Noto Sans CJK SC', 'Noto Sans CJK JP', sans-serif" font-size="100" font-weight="300">（</text>
<text transform="matrix(0.8617 0.0000 0.0000 0.7632 268.9149 960.9737)" font-family="Liberation Sans, Arial, sans-serif" font-size="100" stroke="#000" stroke-width="1.8">d</text>
<text transform="matrix(0.8333 0.0000 0.0000 0.7926 326.3333 967.8670)" font-family="'Noto Sans CJK SC', 'Noto Sans CJK JP', sans-serif" font-size="100" font-weight="300">）</text>
<text transform="matrix(0.8750 0.0000 0.0000 0.7926 173.3750 1147.8670)" font-family="'Noto Sans CJK SC', 'Noto Sans CJK JP', sans-serif" font-size="100" font-weight="300">（</text>
<text transform="matrix(0.8889 0.0000 0.0000 0.7281 273.3333 1140.5439)" font-family="Liberation Sans, Arial, sans-serif" font-size="100" stroke="#000" stroke-width="1.9">c</text>
<text transform="matrix(0.8333 0.0000 0.0000 0.7926 326.3333 1147.8670)" font-family="'Noto Sans CJK SC', 'Noto Sans CJK JP', sans-serif" font-size="100" font-weight="300">）</text>
<text transform="matrix(0.9583 0.0000 0.0000 0.7713 162.9583 1314.0585)" font-family="'Noto Sans CJK SC', 'Noto Sans CJK JP', sans-serif" font-size="100" font-weight="300">（</text>
<text transform="matrix(0.8804 0.0000 0.0000 0.7632 270.7174 1306.9737)" font-family="Liberation Sans, Arial, sans-serif" font-size="100" stroke="#000" stroke-width="1.8">b</text>
<text transform="matrix(0.9583 0.0000 0.0000 0.7713 327.7083 1314.0585)" font-family="'Noto Sans CJK SC', 'Noto Sans CJK JP', sans-serif" font-size="100" font-weight="300">）</text>
<text transform="matrix(1.0625 0.0000 0.0000 0.8032 147.5625 1473.2713)" font-family="'Noto Sans CJK SC', 'Noto Sans CJK JP', sans-serif" font-size="100" font-weight="300">（</text>
<text transform="matrix(0.7778 0.0000 0.0000 0.7193 265.1667 1464.5614)" font-family="Liberation Sans, Arial, sans-serif" font-size="100" stroke="#000" stroke-width="1.9">a</text>
<text transform="matrix(1.0833 0.0000 0.0000 0.8032 318.5833 1473.2713)" font-family="'Noto Sans CJK SC', 'Noto Sans CJK JP', sans-serif" font-size="100" font-weight="300">）</text>
<text transform="matrix(0.0000 -0.7609 0.7770 0.0000 110.2230 1133.7828)" font-family="Liberation Sans, Arial, sans-serif" font-size="100" font-weight="bold">Absorbance</text>
<text transform="matrix(0.0000 -0.8333 0.8032 0.0000 117.2713 717.6667)" font-family="'Noto Sans CJK SC', 'Noto Sans CJK JP', sans-serif" font-size="100" font-weight="300">（</text>
<text transform="matrix(0.0000 -0.7963 0.7636 0.0000 110.2364 621.8889)" font-family="Liberation Sans, Arial, sans-serif" font-size="100" font-weight="bold">a.u</text>
<text transform="matrix(0.0000 -0.7917 0.8032 0.0000 117.2713 517.9583)" font-family="'Noto Sans CJK SC', 'Noto Sans CJK JP', sans-serif" font-size="100" font-weight="300">）</text>
<text transform="matrix(0.3796 0.0000 0.0000 0.3373 301.2408 133.3880)" font-family="Liberation Sans, Arial, sans-serif" font-size="100" stroke="#000" stroke-width="3.6">0.40</text>
<text transform="matrix(0.3816 0.0000 0.0000 0.3373 301.2368 230.9880)" font-family="Liberation Sans, Arial, sans-serif" font-size="100" stroke="#000" stroke-width="3.6">0.35</text>
<text transform="matrix(0.3796 0.0000 0.0000 0.3373 301.2408 328.7880)" font-family="Liberation Sans, Arial, sans-serif" font-size="100" stroke="#000" stroke-width="3.6">0.30</text>
<text transform="matrix(0.3816 0.0000 0.0000 0.3373 301.2368 426.4880)" font-family="Liberation Sans, Arial, sans-serif" font-size="100" stroke="#000" stroke-width="3.6">0.25</text>
<text transform="matrix(0.3796 0.0000 0.0000 0.3373 301.2408 524.2880)" font-family="Liberation Sans, Arial, sans-serif" font-size="100" stroke="#000" stroke-width="3.6">0.20</text>
<text transform="matrix(0.3816 0.0000 0.0000 0.3373 301.2368 621.9880)" font-family="Liberation Sans, Arial, sans-serif" font-size="100" stroke="#000" stroke-width="3.6">0.15</text>
<text transform="matrix(0.3717 0.0000 0.0000 0.3333 393.6565 655.5000)" font-family="Liberation Sans, Arial, sans-serif" font-size="100" stroke="#000" stroke-width="4.0">0.00</text>
<text transform="matrix(0.3737 0.0000 0.0000 0.3333 473.4526 655.5000)" font-family="Liberation Sans, Arial, sans-serif" font-size="100" stroke="#000" stroke-width="4.0">0.05</text>
<text transform="matrix(0.3717 0.0000 0.0000 0.3333 553.2565 655.5000)" font-family="Liberation Sans, Arial, sans-serif" font-size="100" stroke="#000" stroke-width="4.0">0.10</text>
<text transform="matrix(0.3737 0.0000 0.0000 0.3333 633.0526 655.5000)" font-family="Liberation Sans, Arial, sans-serif" font-size="100" stroke="#000" stroke-width="4.0">0.15</text>
<text transform="matrix(0.3717 0.0000 0.0000 0.3333 712.8565 655.5000)" font-family="Liberation Sans, Arial, sans-serif" font-size="100" stroke="#000" stroke-width="4.0">0.20</text>
<text transform="matrix(0.3737 0.0000 0.0000 0.3333 792.6526 655.5000)" font-family="Liberation Sans, Arial, sans-serif" font-size="100" stroke="#000" stroke-width="4.0">0.25</text>
<text transform="matrix(0.3717 0.0000 0.0000 0.3333 872.4565 655.5000)" font-family="Liberation Sans, Arial, sans-serif" font-size="100" stroke="#000" stroke-width="4.0">0.30</text>
<text transform="matrix(0.3523 0.0000 0.0000 0.3378 407.6477 716.1622)" font-family="Liberation Sans, Arial, sans-serif" font-size="100" font-weight="bold">the molar ratio of EDTA and Cu</text>
<text transform="matrix(0.0000 -0.5000 0.4648 0.0000 274.0352 442.7000)" font-family="Liberation Sans, Arial, sans-serif" font-size="100" stroke="#000" stroke-width="2.1">I</text>
<text transform="matrix(0.0000 -0.4781 0.4562 0.0000 283.3877 430.9125)" font-family="Liberation Sans, Arial, sans-serif" font-size="100" stroke="#000" stroke-width="2.1">673</text>
<text transform="matrix(0.0000 -0.4467 0.4342 0.0000 273.6316 351.2533)" font-family="Liberation Sans, Arial, sans-serif" font-size="100" stroke="#000" stroke-width="2.2">/</text>
<text transform="matrix(0.0000 -0.4667 0.4648 0.0000 274.0352 337.4333)" font-family="Liberation Sans, Arial, sans-serif" font-size="100" stroke="#000" stroke-width="2.1">I</text>
<text transform="matrix(0.0000 -0.4720 0.4562 0.0000 283.3877 325.4161)" font-family="Liberation Sans, Arial, sans-serif" font-size="100" stroke="#000" stroke-width="2.1">800</text>
</g>
</svg>
</body></html>
